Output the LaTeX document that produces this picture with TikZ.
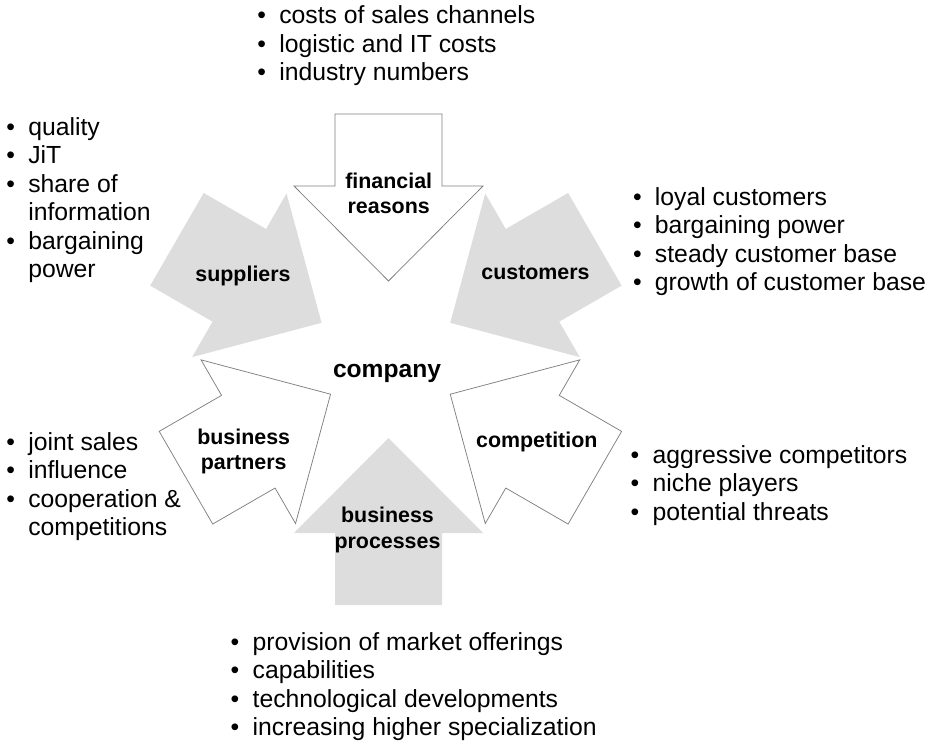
\documentclass[tikz,border=0pt]{standalone}
\usepackage{fontspec}
\setmainfont{Liberation Sans}
\definecolor{arrowgray}{RGB}{221,221,221}
\definecolor{edgegray}{RGB}{128,128,128}
\newcommand\bitem{\makebox[22pt][l]{\textbullet}}
\newcommand\bcont{\hspace*{22pt}}
\newcommand\blist[1]{\parbox[t]{400pt}{\raggedright\fontsize{24.75pt}{28.5pt}\selectfont #1}}
\newcommand\blabel[1]{\parbox[t]{160pt}{\centering\fontsize{21.4pt}{25.5pt}\selectfont\bfseries #1}}
% big block arrow: head-base midpoint, pixel angle, style
\newcommand\bigarrow[3]{%
  \begin{scope}[shift={#1},rotate=#2]
    \path[#3] (95,0) -- (0,94.5) -- (0,53.5) -- (-72,53.5) -- (-72,-53.5)
      -- (0,-53.5) -- (0,-94.5) -- cycle;
  \end{scope}}
\tikzset{
  grayarrow/.style={fill=arrowgray},
  whitearrow/.style={fill=white,draw=edgegray,line width=0.75pt,line join=miter},
  listtext/.style={anchor=base west,inner sep=0pt,outer sep=0pt},
  lbltext/.style={anchor=base,inner sep=0pt,outer sep=0pt},
}
\begin{document}
\begin{tikzpicture}[x=1pt,y=-1pt]
\useasboundingbox (0,0) rectangle (935,744);
% arrows (pixel angle theta -> rotate=-theta)
\bigarrow{(388.5,186)}{-90}{whitearrow}
\bigarrow{(388.5,533)}{90}{grayarrow}
\bigarrow{(239.3,275.3)}{-30}{grayarrow}
\bigarrow{(532.5,275.3)}{-150}{grayarrow}
\bigarrow{(248.3,441.7)}{30}{whitearrow}
\bigarrow{(532.5,441.7)}{150}{whitearrow}
% labels
\node[lbltext] (fin) at (388.7,188) {\blabel{financial\\reasons}};
\node[lbltext] (sup) at (243,281.7) {\blabel{suppliers}};
\node[lbltext] (cus) at (535.5,279.3) {\blabel{customers}};
\node[lbltext] (par) at (243.7,444) {\blabel{business\\partners}};
\node[lbltext] (com) at (536.8,447.3) {\blabel{competition}};
\node[lbltext] (pro) at (387.5,522.7) {\blabel{business\\processes}};
\node[lbltext] (cmp) at (387,377) {\fontsize{24.6pt}{28pt}\selectfont\bfseries company};
% lists
\node[listtext] (lfin) at (257.3,23.8) {\blist{\bitem costs of sales channels\\
  \bitem logistic and IT costs\\ \bitem industry numbers}};
\node[listtext] (lsup) at (6.3,135) {\blist{\bitem quality\\ \bitem JiT\\
  \bitem share of\\ \bcont information\\ \bitem bargaining\\ \bcont power}};
\node[listtext] (lcus) at (633,205) {\blist{\bitem loyal customers\\
  \bitem bargaining power\\ \bitem steady customer base\\ \bitem growth of customer base}};
\node[listtext] (lpar) at (6.3,450) {\blist{\bitem joint sales\\ \bitem influence\\
  \bitem cooperation \&\\ \bcont competitions}};
\node[listtext] (lcom) at (630.7,463.3) {\blist{\bitem aggressive competitors\\
  \bitem niche players\\ \bitem potential threats}};
\node[listtext] (lpro) at (230.7,650) {\blist{\bitem provision of market offerings\\
  \bitem capabilities\\ \bitem technological developments\\ \bitem increasing higher specialization}};
\end{tikzpicture}
\end{document}
